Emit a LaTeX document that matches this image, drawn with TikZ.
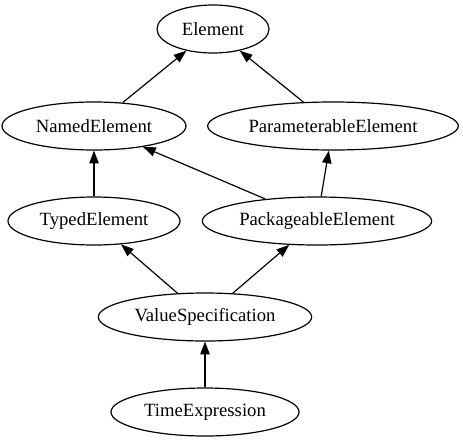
\documentclass[tikz,border=0pt]{standalone}
\usepackage{fontspec}
\setmainfont{Liberation Serif}
\usetikzlibrary{shapes.geometric,arrows.meta}
\begin{document}
\begin{tikzpicture}[x=0.75pt,y=-0.75pt]

\tikzstyle{cls}=[ellipse,draw,line width=0.9pt,inner sep=0pt,minimum height=36pt,font=\fontsize{14}{16}\selectfont]
\tikzstyle{gen}=[-{Triangle[length=9.5pt,width=7pt]},line width=0.9pt]

\useasboundingbox (0,0) rectangle (463,443);

\node[cls,minimum width=84pt]    (elem)    at (213,29)  {Element} ;
\node[cls,minimum width=138pt]   (named)   at (94,126)  {NamedElement} ;
\node[cls,minimum width=188pt]   (param)   at (333,126) {ParameterableElement} ;
\node[cls,minimum width=129pt]   (typed)   at (94,221)  {TypedElement} ;
\node[cls,minimum width=172pt]   (pkg)     at (317,221) {PackageableElement} ;
\node[cls,minimum width=160pt]   (valspec) at (205,317) {ValueSpecification} ;
\node[cls,minimum width=141pt]   (timeexp) at (205,412) {TimeExpression} ;

\draw [gen] (named) -- (elem);
\draw [gen] (param) -- (elem);
\draw [gen] (typed) -- (named);
\draw [gen] (pkg) -- (named);
\draw [gen] (pkg) -- (param);
\draw [gen] (valspec) -- (typed);
\draw [gen] (valspec) -- (pkg);
\draw [gen] (timeexp) -- (valspec);

\end{tikzpicture}
\end{document}
